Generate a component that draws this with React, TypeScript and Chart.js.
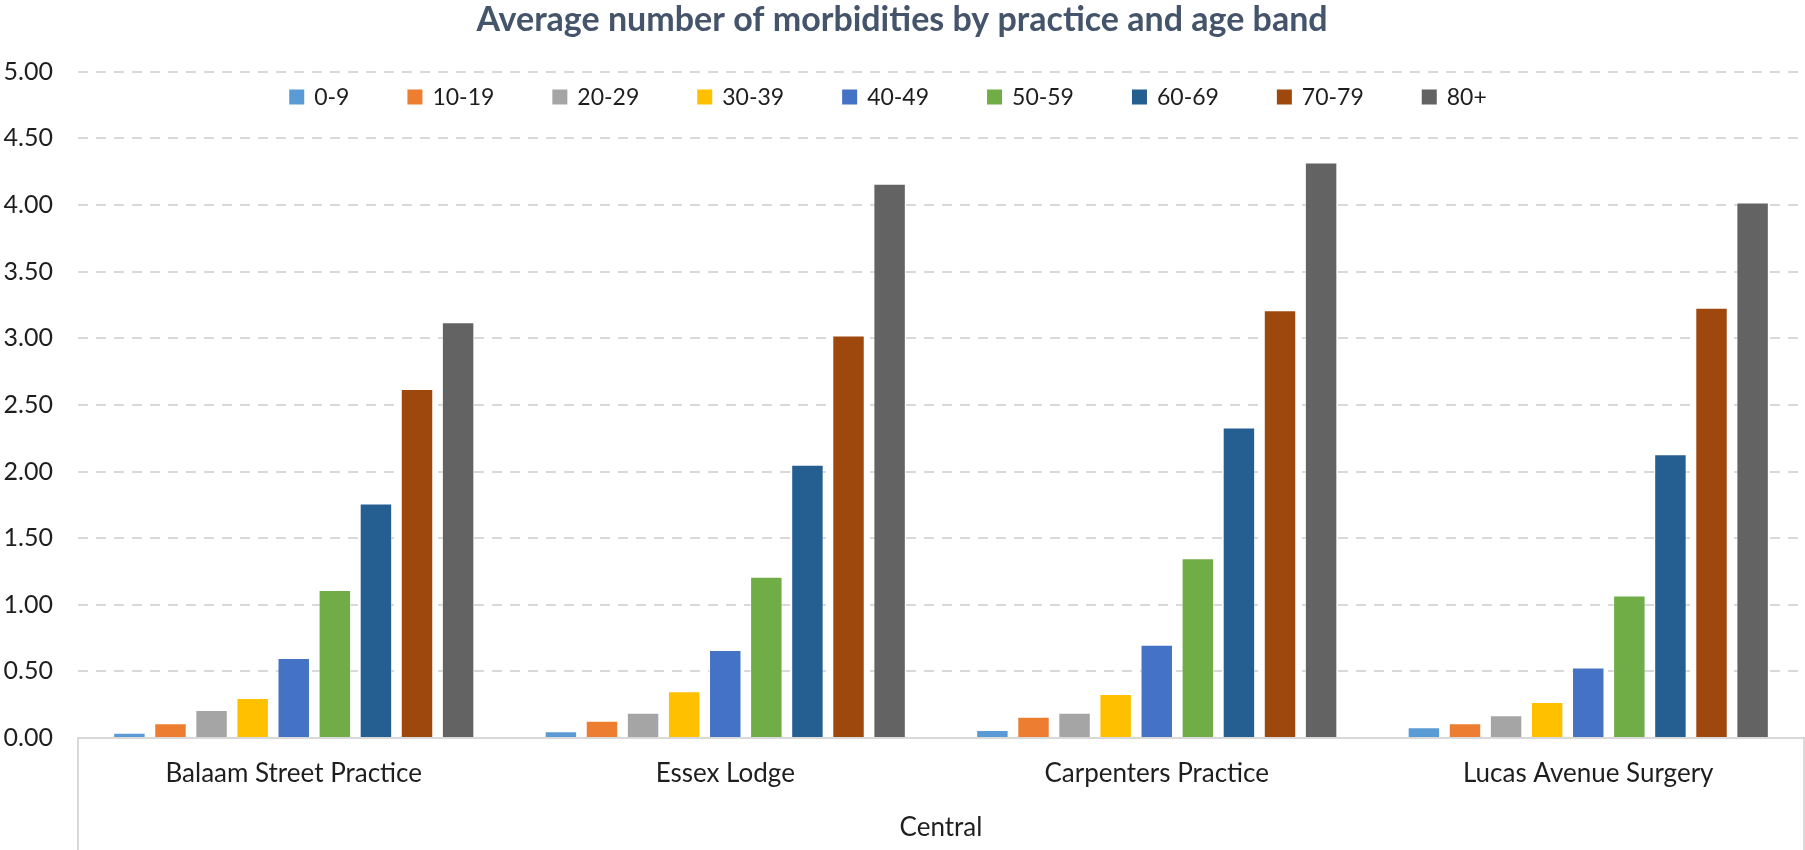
import React, { useEffect, useRef } from 'react';
import { Chart, registerables } from 'chart.js';

Chart.register(...registerables);

// ---------- data ----------
const practices = ['Balaam Street Practice', 'Essex Lodge', 'Carpenters Practice', 'Lucas Avenue Surgery'];
const groupLabels = ['Central'];
const ageBands = ['0-9', '10-19', '20-29', '30-39', '40-49', '50-59', '60-69', '70-79', '80+'];

const band0to9 = [0.04, 0.05, 0.06, 0.08];
const band10to19 = [0.11, 0.13, 0.16, 0.11];
const band20to29 = [0.21, 0.19, 0.19, 0.17];
const band30to39 = [0.30, 0.35, 0.33, 0.27];
const band40to49 = [0.60, 0.66, 0.70, 0.53];
const band50to59 = [1.11, 1.21, 1.35, 1.07];
const band60to69 = [1.76, 2.05, 2.33, 2.13];
const band70to79 = [2.62, 3.02, 3.21, 3.23];
const band80plus = [3.12, 4.16, 4.32, 4.02];

const bandValues = [band0to9, band10to19, band20to29, band30to39, band40to49, band50to59, band60to69, band70to79, band80plus];
const bandColors = ['#5B9BD5', '#ED7D31', '#A5A5A5', '#FFC000', '#4472C4', '#70AD47', '#255E91', '#9E480E', '#636363'];

const yMin = 0;
const yMax = 5;
const yStep = 0.5;

const titleText = 'Average number of morbidities by practice and age band';

// ---------- styles ----------
const FONT = "Lato, 'Noto Sans', sans-serif";
const TEXT_COLOR = '#1e1e1e';
const GRID_COLOR = '#D9D9D9';

const legendPlugin = {
  id: 'excelLegend',
  afterDraw(chart: any, _args: any, opts: any) {
    const ctx = chart.ctx;
    ctx.save();
    ctx.font = `${opts.fontSize}px ${FONT}`;
    const items = chart.data.datasets.map((ds: any) => ({
      label: ds.label,
      color: ds.backgroundColor,
      w: ctx.measureText(ds.label).width,
    }));
    const total =
      items.reduce((s: number, it: any) => s + opts.box + opts.gap + it.w, 0) + opts.pad * (items.length - 1);
    let x = opts.centerX - total / 2;
    const y = opts.centerY;
    ctx.textBaseline = 'middle';
    ctx.textAlign = 'left';
    for (const it of items) {
      ctx.fillStyle = it.color;
      ctx.fillRect(x, y - opts.box / 2, opts.box, opts.box);
      ctx.fillStyle = TEXT_COLOR;
      ctx.fillText(it.label, x + opts.box + opts.gap, y + 1);
      x += opts.box + opts.gap + it.w + opts.pad;
    }
    ctx.restore();
  },
};

const groupLinesPlugin = {
  id: 'groupLines',
  afterDraw(chart: any) {
    const { ctx, chartArea } = chart;
    ctx.save();
    ctx.strokeStyle = GRID_COLOR;
    ctx.lineWidth = 2;
    for (const x of [chartArea.left, chartArea.right]) {
      ctx.beginPath();
      ctx.moveTo(x, chartArea.bottom);
      ctx.lineTo(x, chart.height);
      ctx.stroke();
    }
    ctx.restore();
  },
};

export default function App() {
  const canvasRef = useRef<HTMLCanvasElement | null>(null);

  useEffect(() => {
    if (!canvasRef.current) return;
    const chart = new Chart(canvasRef.current, {
      type: 'bar',
      data: {
        labels: practices,
        datasets: ageBands.map((band, i) => ({
          label: band,
          data: bandValues[i],
          backgroundColor: bandColors[i],
          borderColor: 'rgba(255,255,255,0.45)',
          borderWidth: 1,
          categoryPercentage: 0.857,
          barPercentage: 0.79,
        })),
      },
      options: {
        animation: false,
        responsive: false,
        layout: { padding: { left: 0, right: 1, top: 0, bottom: 0 } },
        plugins: {
          legend: { display: false },
          tooltip: { enabled: false },
          title: {
            display: true,
            text: titleText,
            color: '#44546A',
            font: { family: FONT, size: 34, weight: 'bold' },
            padding: { top: 0, bottom: 31 },
          },
          excelLegend: { fontSize: 23, box: 15, gap: 10, pad: 58, centerX: 888, centerY: 97 },
        } as any,
        scales: {
          y: {
            min: yMin,
            max: yMax,
            ticks: {
              stepSize: yStep,
              color: TEXT_COLOR,
              font: { family: FONT, size: 25 },
              padding: 25,
              callback: (v: any) => Number(v).toFixed(2),
            },
            grid: {
              color: (c: any) => (c.tick && c.tick.value === 0 ? 'rgba(0,0,0,0)' : GRID_COLOR),
              lineWidth: 2,
              drawTicks: false,
            },
            border: { display: false, dash: [10, 8] },
            afterFit: (s: any) => {
              s.width = 78;
            },
          } as any,
          x: {
            ticks: {
              color: TEXT_COLOR,
              font: { family: FONT, size: 26 },
              padding: 20,
              maxRotation: 0,
              autoSkip: false,
            },
            grid: { display: false, drawTicks: false },
            border: { display: true, color: GRID_COLOR, width: 2 },
            afterFit: (s: any) => {
              s.height = 62;
            },
          } as any,
          x2: {
            type: 'category',
            position: 'bottom',
            labels: groupLabels,
            ticks: {
              color: TEXT_COLOR,
              font: { family: FONT, size: 26 },
              padding: 12,
              maxRotation: 0,
            },
            grid: { display: false, drawTicks: false },
            border: { display: false },
            afterFit: (s: any) => {
              s.height = 50;
            },
          } as any,
        },
      },
      plugins: [legendPlugin, groupLinesPlugin],
    });
    return () => chart.destroy();
  }, []);

  return (
    <div style={{ position: 'fixed', left: 0, top: 0, width: 1805, height: 850, background: '#fff' }}>
      <canvas ref={canvasRef} width={1805} height={850} style={{ display: 'block' }} />
    </div>
  );
}
